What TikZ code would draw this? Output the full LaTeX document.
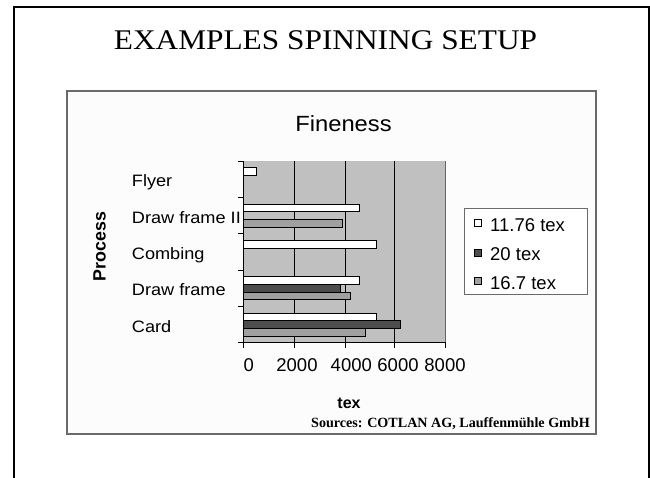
\documentclass[tikz,border=0pt]{standalone}
\usepackage{fontspec}
\setmainfont{Liberation Serif}
\newfontfamily\arial{Liberation Sans}
\definecolor{plotgray}{HTML}{C0C0C0}
\definecolor{bardark}{HTML}{4D4D4D}
\definecolor{barmid}{HTML}{A0A0A0}
\definecolor{boxedge}{HTML}{6A6A6A}
\definecolor{boxfill}{HTML}{FCFCFC}
\begin{document}
\begin{tikzpicture}[x=1pt,y=-1pt,
  catlabel/.style={font=\arial\fontsize{16.5}{20}\selectfont, inner sep=0pt, anchor=base west, xscale=1.1},
  ticklabel/.style={font=\arial\fontsize{18.5}{21}\selectfont, inner sep=0pt, anchor=base},
  legtext/.style={font=\arial\fontsize{18.5}{21}\selectfont, inner sep=0pt, anchor=base west},
  legmark/.style={draw=black, line width=0.7pt, minimum size=7pt, inner sep=0pt},
  bar/.style={draw=black, line width=0.8pt},
  gridline/.style={black, line width=0.8pt},
  axisline/.style={black, line width=0.8pt}]
\useasboundingbox (0,0) rectangle (650,477);
\fill[white] (0,0) rectangle (650,477);

% slide frame, open at the bottom
\draw[line width=2pt] (13.5,478) -- (13.5,6.5) -- (648.8,6.5) -- (648.8,478);

% slide title
\node[inner sep=0pt, xscale=1.1] (title) at (325.5,40) {\fontsize{28.5}{32}\selectfont EXAMPLES SPINNING SETUP};

% chart frame
\draw[boxedge, line width=1.6pt, fill=boxfill] (67,91) rectangle (596,434);

% chart title
\node[inner sep=0pt, xscale=1.08, font=\arial\fontsize{22}{26}\selectfont] (ctitle) at (343.5,123.8) {Fineness};

% plot area
\def\xo{243.3}
\def\yt{161}
\def\yb{342.7}
\def\band{36.34}
\def\sx{0.0253}
\fill[plotgray] (\xo,\yt) rectangle (445.7,\yb);
\foreach \gx in {294.3,345,394.3}
  \draw[gridline] (\gx,\yt) -- (\gx,\yb);
\draw[gray!80!black, line width=0.8pt] (445.7,\yt) -- (445.7,\yb);

% bars: band index, slot (0 = 11.76 tex, 1 = 20 tex, 2 = 16.7 tex), value, fill
\foreach \b/\s/\v/\c in {
    0/0/526/white,
    1/0/4573/white, 1/2/3925/barmid,
    2/0/5269/white,
    3/0/4573/white, 3/1/3846/bardark, 3/2/4229/barmid,
    4/0/5257/white, 4/1/6217/bardark, 4/2/4822/barmid}{
  \pgfmathsetmacro\ytop{\yt+\b*\band+6.7+\s*7.7}
  \pgfmathsetmacro\xend{\xo+\v*\sx}
  \draw[bar, fill=\c] (\xo,\ytop) rectangle (\xend,\ytop+7.7);
}

% axes and tick marks
\draw[axisline] (\xo,\yt) -- (\xo,348);
\draw[axisline] (\xo,\yb) -- (445.7,\yb);
\foreach \k in {0,...,5}
  \draw[axisline] (238,\yt+\k*\band) -- (\xo,\yt+\k*\band);
\foreach \gx in {294.3,345,394.3,445.7}
  \draw[axisline] (\gx,\yb) -- (\gx,348);

% category labels
\foreach \name/\txt [count=\k from 0] in {fly/Flyer, dfb/Draw frame II, comb/Combing, dfa/Draw frame, card/Card}
  \node[catlabel] (cat-\name) at (131.7,\yt+\k*\band+\band/2+7.6) {\txt};

% value axis labels
\node[ticklabel] (t0) at (248.8,371.7) {0};
\node[ticklabel] (t2) at (297,371.7) {2000};
\node[ticklabel] (t4) at (351.3,371.7) {4000};
\node[ticklabel] (t6) at (398,371.7) {6000};
\node[ticklabel] (t8) at (445,371.7) {8000};

% axis titles
\node[inner sep=0pt, rotate=90, font=\arial\bfseries\fontsize{17.8}{20}\selectfont] (ytitle) at (99.5,246.5) {Process};
\node[inner sep=0pt, anchor=base, font=\arial\bfseries\fontsize{16}{18}\selectfont] (xtitle) at (349,408.3) {tex};
\node[inner sep=0pt, anchor=base east, font=\bfseries\fontsize{14.1}{16}\selectfont] (src) at (590,427) {Sources: COTLAN AG, Lauffenmühle GmbH};

% legend
\draw[boxedge, line width=0.9pt, fill=white] (464.3,208.3) rectangle (587.3,294.3);
\node[legmark, fill=white] (m1) at (478,223.2) {};
\node[legmark, fill=bardark] (m2) at (478,253.1) {};
\node[legmark, fill=barmid] (m3) at (478,281.3) {};
\node[legtext] (l1) at (490,231.5) {11.76 tex};
\node[legtext] (l2) at (490,260.3) {20 tex};
\node[legtext] (l3) at (490,289.3) {16.7 tex};
\end{tikzpicture}
\end{document}
